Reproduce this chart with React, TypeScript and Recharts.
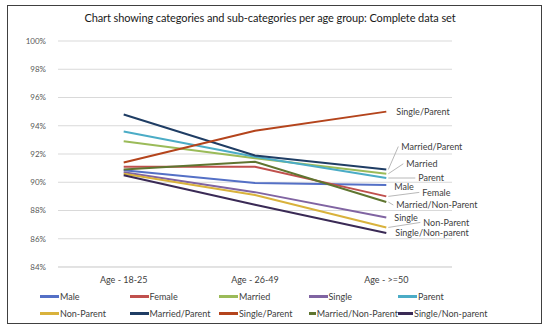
import React from 'react';
import { LineChart, Line, XAxis, YAxis, CartesianGrid, LabelList } from 'recharts';

const CATEGORIES = ['Age - 18-25', 'Age - 26-49', 'Age - >=50'];
const MALE = [90.85, 89.95, 89.8];
const FEMALE = [91.1, 91.1, 89.0];
const MARRIED = [92.9, 91.7, 90.6];
const SINGLE = [90.7, 89.3, 87.5];
const PARENT = [93.6, 91.8, 90.3];
const NON_PARENT = [90.6, 89.1, 86.8];
const MARRIED_PARENT = [94.8, 91.9, 90.9];
const SINGLE_PARENT = [91.4, 93.65, 95.0];
const MARRIED_NON_PARENT = [90.9, 91.45, 88.6];
const SINGLE_NON_PARENT = [90.5, 88.4, 86.4];
const Y_TICKS = [84, 86, 88, 90, 92, 94, 96, 98, 100];

interface SeriesConfig {
  key: string;
  label: string;
  color: string;
  values: number[];
}

const SERIES: SeriesConfig[] = [
  { key: 'male', label: 'Male', color: '#5470c6', values: MALE },
  { key: 'female', label: 'Female', color: '#c0504d', values: FEMALE },
  { key: 'married', label: 'Married', color: '#9bbb59', values: MARRIED },
  { key: 'single', label: 'Single', color: '#8064a2', values: SINGLE },
  { key: 'parent', label: 'Parent', color: '#4bacc6', values: PARENT },
  { key: 'nonParent', label: 'Non-Parent', color: '#d9b23c', values: NON_PARENT },
  { key: 'marriedParent', label: 'Married/Parent', color: '#1f3d64', values: MARRIED_PARENT },
  { key: 'singleParent', label: 'Single/Parent', color: '#b4441c', values: SINGLE_PARENT },
  { key: 'marriedNonParent', label: 'Married/Non-Parent', color: '#5f7530', values: MARRIED_NON_PARENT },
  { key: 'singleNonParent', label: 'Single/Non-parent', color: '#3a2a55', values: SINGLE_NON_PARENT }
];

// where each end label sits relative to the last point (text start, vertical middle)
const LABEL_OFFSET: Record<string, { dx: number; dy: number; leader: boolean }> = {
  male: { dx: 8, dy: 2, leader: false },
  female: { dx: 36, dy: -4, leader: true },
  married: { dx: 20, dy: -10, leader: true },
  single: { dx: 8, dy: 0, leader: false },
  parent: { dx: 32, dy: 0, leader: true },
  nonParent: { dx: 37, dy: -5, leader: true },
  marriedParent: { dx: 15, dy: -23, leader: true },
  singleParent: { dx: 10, dy: 0, leader: false },
  marriedNonParent: { dx: 10, dy: 3, leader: true },
  singleNonParent: { dx: 9, dy: 0, leader: false }
};

const FONT = 'Lato, "Open Sans", sans-serif';

const data = CATEGORIES.map((cat, i) => {
  const row: Record<string, string | number> = { category: cat };
  SERIES.forEach(s => {
    row[s.key] = s.values[i];
  });
  return row;
});

function endLabel(series: SeriesConfig) {
  return (props: any) => {
    const { x, y, index } = props;
    if (index !== CATEGORIES.length - 1) return null;
    const off = LABEL_OFFSET[series.key];
    const tx = x + off.dx;
    const ty = y + off.dy;
    return (
      <g>
        {off.leader && (
          <line x1={x + 2} y1={y} x2={tx - 3} y2={ty} stroke="#a6a6a6" strokeWidth={0.8} />
        )}
        <text x={tx} y={ty} dy="0.35em" fontSize={9} fill="#404040" fontFamily={FONT}>
          {series.label}
        </text>
      </g>
    );
  };
}

export default function App() {
  return (
    <div style={{ position: 'absolute', left: 0, top: 0, width: 550, height: 330, background: '#fff', fontFamily: FONT }}>
      <div
        style={{
          position: 'absolute',
          left: 7,
          top: 5,
          width: 533,
          height: 317,
          border: '1px solid #404040'
        }}
      />
      <div
        style={{
          position: 'absolute',
          left: 0,
          top: 11,
          width: 540,
          textAlign: 'center',
          fontSize: 11,
          letterSpacing: -0.1,
          color: '#1a1a1a',
          whiteSpace: 'nowrap'
        }}
      >
        Chart showing categories and sub-categories per age group: Complete data set
      </div>
      <div style={{ position: 'absolute', left: 0, top: 0 }}>
        <LineChart width={550} height={330} data={data} margin={{ top: 41, right: 98, bottom: 43, left: 18 }}>
          <CartesianGrid vertical={false} stroke="#d9d9d9" />
          <XAxis
            dataKey="category"
            axisLine={{ stroke: '#d9d9d9' }}
            tickLine={false}
            padding={{ left: 65.7, right: 65.7 }}
            tick={{ fontSize: 9, fill: '#404040', fontFamily: FONT }}
            height={20}
            tickMargin={4}
          />
          <YAxis
            domain={[84, 100]}
            ticks={Y_TICKS}
            axisLine={false}
            tickLine={false}
            width={40}
            tickFormatter={v => `${v}%`}
            tick={{ fontSize: 8, fill: '#595959', fontFamily: FONT }}
            tickMargin={6}
          />
          {SERIES.map(s => (
            <Line
              key={s.key}
              type="linear"
              dataKey={s.key}
              name={s.label}
              stroke={s.color}
              strokeWidth={2}
              dot={false}
              isAnimationActive={false}
            >
              <LabelList dataKey={s.key} content={endLabel(s)} />
            </Line>
          ))}
        </LineChart>
      </div>
      <div style={{ position: 'absolute', left: 40, top: 288, width: 480 }}>
        {[0, 1].map(row => (
          <div key={row} style={{ display: 'flex', height: 17, alignItems: 'center' }}>
            {SERIES.slice(row * 5, row * 5 + 5).map(s => (
              <div
                key={s.key}
                style={{
                  display: 'flex',
                  alignItems: 'center',
                  width: 89.5,
                  flexShrink: 0,
                  fontSize: 9,
                  color: '#404040',
                  whiteSpace: 'nowrap'
                }}
              >
                <span style={{ display: 'inline-block', width: 19, height: 3, background: s.color, marginRight: 1 }} />
                {s.label}
              </div>
            ))}
          </div>
        ))}
      </div>
    </div>
  );
}
